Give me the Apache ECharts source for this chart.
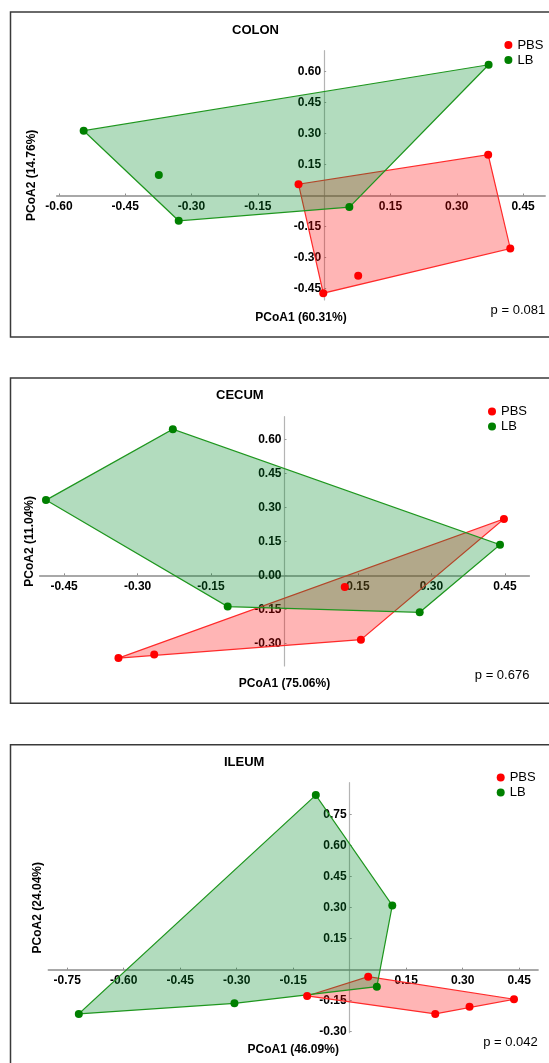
<!DOCTYPE html>
<html><head><meta charset="utf-8">
<script src="https://cdn.jsdelivr.net/npm/echarts@6/dist/echarts.min.js"></script>
<style>html,body{margin:0;padding:0;background:#fff}#c{width:549px;height:1063px}</style>
</head><body><div id="c"></div>
<script>
// ---- data ----
const panelTitles = ['COLON', 'CECUM', 'ILEUM'];
const xAxisNames = ['PCoA1 (60.31%)', 'PCoA1 (75.06%)', 'PCoA1 (46.09%)'];
const yAxisNames = ['PCoA2 (14.76%)', 'PCoA2 (11.04%)', 'PCoA2 (24.04%)'];
const pValues = ['p = 0.081', 'p = 0.676', 'p = 0.042'];
const groupNames = ['PBS', 'LB'];

const colonPBS = [[-0.058, 0.055], [0.371, 0.197], [0.421, -0.256], [0.077, -0.388], [-0.002, -0.472]];
const colonLB  = [[0.372, 0.632], [-0.544, 0.313], [-0.374, 0.099], [-0.329, -0.122], [0.057, -0.056]];
const cecumPBS = [[0.448, 0.249], [0.123, -0.051], [0.156, -0.284], [-0.266, -0.349], [-0.339, -0.365]];
const cecumLB  = [[-0.228, 0.645], [-0.487, 0.332], [-0.116, -0.138], [0.276, -0.163], [0.440, 0.135]];
const ileumPBS = [[0.049, -0.034], [-0.113, -0.127], [0.227, -0.214], [0.318, -0.179], [0.436, -0.143]];
const ileumLB  = [[-0.090, 0.845], [0.113, 0.311], [0.072, -0.082], [-0.306, -0.163], [-0.719, -0.214]];

const colonXTicks = [-0.60, -0.45, -0.30, -0.15, 0.15, 0.30, 0.45];
const colonYTicks = [-0.45, -0.30, -0.15, 0.15, 0.30, 0.45, 0.60];
const cecumXTicks = [-0.45, -0.30, -0.15, 0.15, 0.30, 0.45];
const cecumYTicks = [-0.30, -0.15, 0.00, 0.15, 0.30, 0.45, 0.60];
const ileumXTicks = [-0.75, -0.60, -0.45, -0.30, -0.15, 0.15, 0.30, 0.45];
const ileumYTicks = [-0.30, -0.15, 0.15, 0.30, 0.45, 0.60, 0.75];

const xRanges = [[-0.605, 0.5], [-0.5, 0.5], [-0.8, 0.5]];
const yRanges = [[-0.505, 0.70], [-0.40, 0.70], [-0.305, 0.905]];

// ---- layout / style ----
const FONT = 'Liberation Sans, Arial, sans-serif';
const grids = [
  {left: 56.7, top: 50.7, width: 488.5, height: 249.3, outerBoundsMode: 'none', containLabel: false},
  {left: 39.6, top: 416.7, width: 489.8, height: 249.3, outerBoundsMode: 'none', containLabel: false},
  {left: 48.3, top: 782.7, width: 489.8, height: 250, outerBoundsMode: 'none', containLabel: false}
];
const xNameGaps = [116, 102, 74.5];
const yNameGaps = [286.6, 248.4, 305.8];
const titlePos = [[232, 23.5], [216, 389], [224, 755.5]];
const legendPos = [[504.4, 38.5], [488, 405], [496.7, 771]];
const pPos = [[545.2, 310], [529.4, 675.7], [537.8, 1042]];
const frames = [[10.5, 12, 600, 325], [10.5, 378, 600, 325.3], [10.5, 744.7, 600, 400]];

const RED = '#ff0000', GREEN = '#008000';
const RED_FILL = 'rgba(255,0,0,0.29)', GREEN_FILL = 'rgba(0,140,40,0.30)';
const RED_LINE = '#ff2a2a', GREEN_LINE = '#1e961e';

const panels = [
  {pbs: colonPBS, lb: colonLB, xt: colonXTicks, yt: colonYTicks},
  {pbs: cecumPBS, lb: cecumLB, xt: cecumXTicks, yt: cecumYTicks},
  {pbs: ileumPBS, lb: ileumLB, xt: ileumXTicks, yt: ileumYTicks}
];

function convexHull(pts) {
  const p = pts.slice().sort((a, b) => a[0] - b[0] || a[1] - b[1]);
  const cross = (o, a, b) => (a[0] - o[0]) * (b[1] - o[1]) - (a[1] - o[1]) * (b[0] - o[0]);
  const lower = [], upper = [];
  for (const q of p) { while (lower.length >= 2 && cross(lower[lower.length - 2], lower[lower.length - 1], q) <= 0) lower.pop(); lower.push(q); }
  for (let i = p.length - 1; i >= 0; i--) { const q = p[i]; while (upper.length >= 2 && cross(upper[upper.length - 2], upper[upper.length - 1], q) <= 0) upper.pop(); upper.push(q); }
  upper.pop(); lower.pop();
  return lower.concat(upper);
}

function hullSeries(name, pts, stroke, fill, idx, z) {
  const hull = convexHull(pts);
  return {
    type: 'custom', name: name + ' hull', xAxisIndex: idx, yAxisIndex: idx,
    data: hull, encode: {x: 0, y: 1}, silent: true, z: z, clip: false,
    renderItem: function (params, api) {
      if (params.dataIndex !== 0) return null;
      const points = hull.map(function (q) { return api.coord(q); });
      return {type: 'polygon', shape: {points: points}, style: {fill: fill, stroke: stroke, lineWidth: 1.2}};
    }
  };
}

const xAxes = [], yAxes = [], series = [], legends = [], titles = [], graphics = [];
panels.forEach(function (pn, i) {
  const g = grids[i], xr = xRanges[i], yr = yRanges[i];
  // move the axis lines (with labels) to the data origin
  const xOffset = -g.height * (-yr[0]) / (yr[1] - yr[0]);
  const yOffset = -g.width * (-xr[0]) / (xr[1] - xr[0]);
  xAxes.push({
    gridIndex: i, type: 'value', min: xr[0], max: xr[1], position: 'bottom', offset: xOffset,
    name: xAxisNames[i], nameLocation: 'middle', nameGap: xNameGaps[i],
    nameTextStyle: {fontWeight: 'bold', fontSize: 12, color: '#000', fontFamily: FONT},
    axisLine: {onZero: false, lineStyle: {color: '#8c8c8c', width: 1.5}},
    axisTick: {show: true, inside: true, length: 2, customValues: pn.xt, lineStyle: {color: '#8c8c8c'}},
    axisLabel: {customValues: pn.xt, formatter: function (v) { return v.toFixed(2); },
      fontWeight: 'bold', fontSize: 12, color: '#000', margin: 5, fontFamily: FONT},
    splitLine: {show: false}
  });
  yAxes.push({
    gridIndex: i, type: 'value', min: yr[0], max: yr[1], position: 'left', offset: yOffset,
    name: yAxisNames[i], nameLocation: 'middle', nameGap: yNameGaps[i],
    nameTextStyle: {fontWeight: 'bold', fontSize: 12, color: '#000', fontFamily: FONT},
    axisLine: {onZero: false, lineStyle: {color: '#b4b4b4', width: 1.2}},
    axisTick: {show: true, inside: true, length: 2, customValues: pn.yt, lineStyle: {color: '#9a9a9a'}},
    axisLabel: {customValues: pn.yt, formatter: function (v) { return v.toFixed(2); },
      fontWeight: 'bold', fontSize: 12, color: '#000', margin: 3, fontFamily: FONT},
    splitLine: {show: false}
  });
  series.push(hullSeries('PBS', pn.pbs, RED_LINE, RED_FILL, i, 1));
  series.push(hullSeries('LB', pn.lb, GREEN_LINE, GREEN_FILL, i, 2));
  series.push({type: 'scatter', name: 'PBS', xAxisIndex: i, yAxisIndex: i, data: pn.pbs,
    symbol: 'circle', symbolSize: 8, itemStyle: {color: RED, opacity: 1}, z: 5});
  series.push({type: 'scatter', name: 'LB', xAxisIndex: i, yAxisIndex: i, data: pn.lb,
    symbol: 'circle', symbolSize: 8, itemStyle: {color: GREEN, opacity: 1}, z: 5});
  legends.push({
    data: groupNames.map(function (n) { return {name: n, icon: 'circle'}; }),
    orient: 'vertical', left: legendPos[i][0], top: legendPos[i][1], padding: 0,
    itemWidth: 8, itemHeight: 8, itemGap: 2, selectedMode: false,
    textStyle: {fontSize: 13, color: '#000', fontFamily: FONT}
  });
  titles.push({text: panelTitles[i], left: titlePos[i][0], top: titlePos[i][1], padding: 0,
    textStyle: {fontSize: 13, fontWeight: 'bold', color: '#000', fontFamily: FONT}});
  graphics.push({type: 'rect', shape: {x: frames[i][0], y: frames[i][1], width: frames[i][2], height: frames[i][3]},
    style: {fill: 'none', stroke: '#3a3a3a', lineWidth: 1.5}, silent: true, z: 0});
  graphics.push({type: 'text', x: pPos[i][0], y: pPos[i][1],
    style: {text: pValues[i], textAlign: 'right', textVerticalAlign: 'middle', fontSize: 13, fill: '#000', font: '13px ' + FONT}, z: 10});
});

const chart = echarts.init(document.getElementById('c'), null, {renderer: 'canvas'});
chart.setOption({
  animation: false,
  backgroundColor: '#fff',
  title: titles,
  legend: legends,
  grid: grids,
  xAxis: xAxes,
  yAxis: yAxes,
  series: series,
  graphic: graphics
});
</script>
</body></html>
